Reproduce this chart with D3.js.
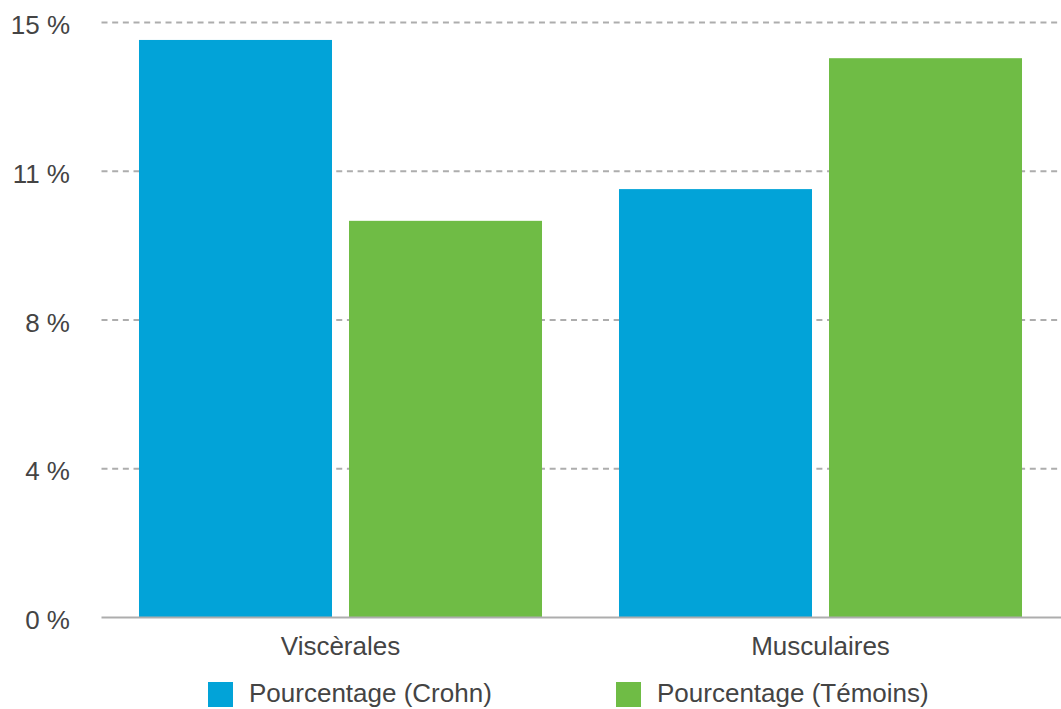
<!DOCTYPE html>
<html>
<head>
<meta charset="utf-8">
<script src="https://cdn.jsdelivr.net/npm/d3@7"></script>
<style>
  html, body { margin: 0; padding: 0; background: #ffffff; }
  svg { display: block; }
  text { font-family: "Liberation Sans", Arial, Helvetica, sans-serif; fill: #444444; }
</style>
</head>
<body>
<svg id="chart" width="1061" height="709"></svg>
<script>
// Categories, series and values (percent)
const categories = ["Viscèrales", "Musculaires"];
const seriesNames = ["Pourcentage (Crohn)", "Pourcentage (Témoins)"];
const crohnValues = [14.56, 10.8];
const temoinsValues = [10.0, 14.1];
const seriesColors = ["#02a3d8", "#6fbc45"];

// Y axis ticks and their labels
const yTickValues = [0, 3.75, 7.5, 11.25, 15];
const yTickLabels = ["0 %", "4 %", "8 %", "11 %", "15 %"];

const values = [crohnValues, temoinsValues];
const rows = categories.map((c, i) => ({
  category: c,
  items: seriesNames.map((s, j) => ({ series: s, value: values[j][i] }))
}));

const svg = d3.select("#chart");
const plotLeft = 101.5, plotRight = 1061;
const yBase = 617.5, yTop = 22.5;

const y = d3.scaleLinear().domain([0, 15]).range([yBase, yTop]);

const x0 = d3.scaleBand()
  .domain(categories)
  .range([100.5, 1060.5])
  .paddingInner(0)
  .paddingOuter(0);

const x1 = d3.scaleBand()
  .domain(seriesNames)
  .range([0, x0.bandwidth()])
  .paddingInner(17 / 210)
  .paddingOuter(0.1833);

const color = d3.scaleOrdinal().domain(seriesNames).range(seriesColors);

// Dashed horizontal grid lines (skip the zero line, drawn solid below)
svg.append("g")
  .selectAll("line")
  .data(yTickValues.filter(v => v > 0))
  .join("line")
  .attr("x1", plotLeft)
  .attr("x2", plotRight)
  .attr("y1", d => y(d))
  .attr("y2", d => y(d))
  .attr("stroke", "#adadad")
  .attr("stroke-width", 2)
  .attr("stroke-dasharray", "6,4.67");

// Y axis labels
const yAxis = d3.axisLeft(y)
  .tickValues(yTickValues)
  .tickFormat((d, i) => yTickLabels[i])
  .tickSize(0)
  .tickPadding(0);

const yAxisG = svg.append("g")
  .attr("transform", "translate(70,0)")
  .call(yAxis);
yAxisG.select(".domain").remove();
yAxisG.selectAll("text")
  .attr("font-size", 26)
  .attr("font-family", "Liberation Sans, Arial, sans-serif")
  .attr("fill", "#444444")
  .attr("dy", "0.43em");

// Bars
const groups = svg.append("g")
  .selectAll("g")
  .data(rows)
  .join("g")
  .attr("transform", d => `translate(${x0(d.category)},0)`);

groups.selectAll("rect")
  .data(d => d.items)
  .join("rect")
  .attr("x", d => x1(d.series))
  .attr("width", x1.bandwidth())
  .attr("y", d => y(d.value))
  .attr("height", d => y(0) - y(d.value))
  .attr("fill", d => color(d.series));

// Solid baseline
svg.append("line")
  .attr("x1", plotLeft)
  .attr("x2", plotRight)
  .attr("y1", y(0))
  .attr("y2", y(0))
  .attr("stroke", "#adadad")
  .attr("stroke-width", 2);

// Category labels
const xAxis = d3.axisBottom(x0).tickSize(0).tickPadding(0);
const xAxisG = svg.append("g")
  .attr("transform", "translate(0,636)")
  .call(xAxis);
xAxisG.select(".domain").remove();
xAxisG.selectAll("text")
  .attr("font-size", 26)
  .attr("font-family", "Liberation Sans, Arial, sans-serif")
  .attr("fill", "#444444")
  .attr("dy", "0.73em");

// Legend
const legendX = [208, 616];
const legend = svg.append("g")
  .selectAll("g")
  .data(seriesNames)
  .join("g")
  .attr("transform", (d, i) => `translate(${legendX[i]},682)`);

legend.append("rect")
  .attr("width", 25)
  .attr("height", 25)
  .attr("fill", d => color(d));

legend.append("text")
  .attr("x", 41)
  .attr("y", 20)
  .attr("font-size", 26)
  .text(d => d);
</script>
</body>
</html>
